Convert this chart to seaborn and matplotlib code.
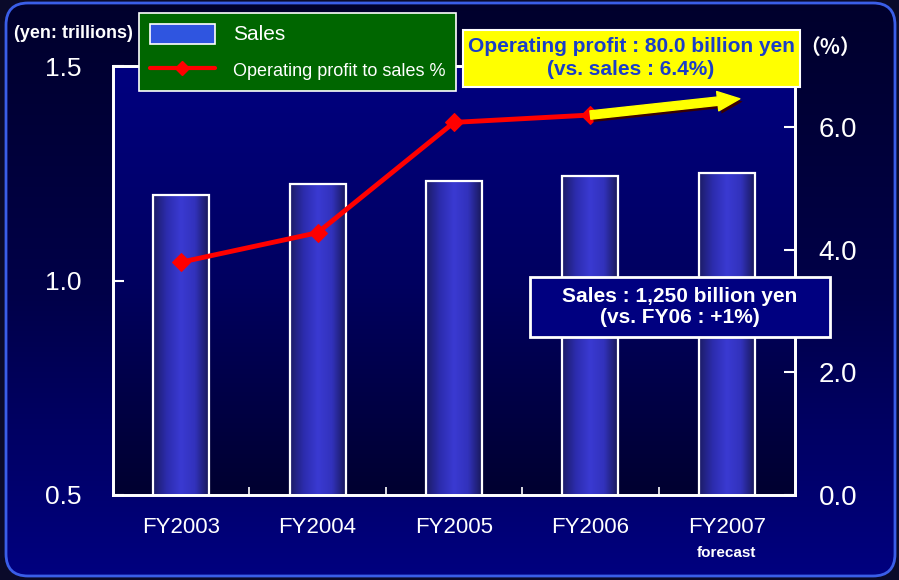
import numpy as np
import matplotlib
matplotlib.use("Agg")
import matplotlib.pyplot as plt
import matplotlib.patheffects as pe
import matplotlib.transforms as mtransforms
from matplotlib.colors import LinearSegmentedColormap
from matplotlib.patches import Patch, FancyBboxPatch, Rectangle
from matplotlib.lines import Line2D
from matplotlib.ticker import FixedLocator
import seaborn as sns

# data
years = ["FY2003", "FY2004", "FY2005", "FY2006", "FY2007"]
sales = [1.20, 1.225, 1.232, 1.244, 1.25]          # yen, trillions
margin = [3.80, 4.28, 6.08, 6.20, 6.40]            # operating profit to sales %
sales_ticks = [0.5, 1.0, 1.5]
pct_ticks = [0.0, 2.0, 4.0, 6.0]

sns.set_theme(style="white")
plt.rcParams["font.family"] = ["Liberation Sans", "DejaVu Sans"]

W, H = 899, 580
fig = plt.figure(figsize=(W / 100, H / 100), dpi=100, facecolor="#0a0a2a")


def px_box(x0, y0, x1, y1, **kw):
    # rectangle given in pixel coords of the figure (origin top-left)
    r = Rectangle((x0 / W, 1 - y1 / H), (x1 - x0) / W, (y1 - y0) / H,
                  transform=fig.transFigure, **kw)
    fig.add_artist(r)
    return r


# figure background: rounded panel with vertical gradient
bg = fig.add_axes([0, 0, 1, 1], zorder=-10)
bg.set_xlim(0, W)
bg.set_ylim(H, 0)
bg.axis("off")
panel = FancyBboxPatch((6, 3), W - 10, H - 7, boxstyle="round,pad=0,rounding_size=22",
                       facecolor="none", edgecolor="#3a5ee8", linewidth=2, zorder=2)
bg.add_patch(panel)
fig_cmap = LinearSegmentedColormap.from_list("figbg", ["#00002c", "#000048", "#000080"])
im = bg.imshow(np.linspace(0, 1, 256).reshape(-1, 1), cmap=fig_cmap, aspect="auto",
               extent=(0, W, H, 0), zorder=1)
im.set_clip_path(panel)

ax = fig.add_axes([113 / W, 1 - 495 / H, (795 - 113) / W, (495 - 66) / H])
ax.set_facecolor("none")

sns.barplot(x=years, y=sales, ax=ax, width=0.41, color="#3535c0",
            edgecolor="white", linewidth=1.6)

ax.set_xlim(-0.5, 4.5)
ax.set_ylim(0.5, 1.5)

# axes background gradient
ax_cmap = LinearSegmentedColormap.from_list("axbg", ["#000030", "#000060", "#000080"])
ax.imshow(np.linspace(0, 1, 256).reshape(-1, 1), cmap=ax_cmap, aspect="auto",
          origin="lower", extent=(-0.5, 4.5, 0.5, 1.5), zorder=0)

# bar gradients (rectangular bars, so the extent alone shapes them)
bar_cmap = LinearSegmentedColormap.from_list(
    "bar", ["#1c1c66", "#2c2cae", "#3a3ad2", "#3232bc", "#18185a"])
for bar in ax.patches:
    x0, y0 = bar.get_x(), bar.get_y()
    w, h = bar.get_width(), bar.get_height()
    ax.imshow(np.linspace(0, 1, 256).reshape(1, -1), cmap=bar_cmap, aspect="auto",
              extent=(x0, x0 + w, y0, y0 + h), zorder=1, interpolation="bicubic")
    bar.set_facecolor("none")
    bar.set_zorder(2)

ax.set_xlim(-0.5, 4.5)
ax.set_ylim(0.5, 1.5)
ax.set_yticks(sales_ticks)
ax.set_yticklabels([f"{t:.1f}" for t in sales_ticks])
ax.set_xlabel("")
ax.set_ylabel("")
ax.tick_params(axis="y", direction="in", length=8, width=1.5, color="white",
               labelcolor="white", labelsize=19, pad=23)
ax.tick_params(axis="x", which="major", length=0, labelcolor="white", labelsize=16, pad=16)
ax.xaxis.set_minor_locator(FixedLocator([0.5, 1.5, 2.5, 3.5]))
ax.tick_params(axis="x", which="minor", direction="in", length=6, width=1.2,
               color="white", bottom=True)
for s in ax.spines.values():
    s.set_visible(True)
    s.set_color("white")
    s.set_linewidth(2)

# operating margin on the right axis
ax2 = ax.twinx()
ax2.xaxis.update_units(np.array(years))
sns.lineplot(x=years[:4], y=margin[:4], ax=ax2, color="red", marker="D",
             markersize=9, markeredgecolor="red", linewidth=3.5, legend=False, sort=False)
ax2.set_ylim(0, 7)
ax2.set_yticks(pct_ticks)
ax2.set_yticklabels([f"{t:.1f}" for t in pct_ticks])
ax2.set_ylabel("")
ax2.tick_params(axis="y", direction="in", length=8, width=1.5, color="white",
                labelcolor="white", labelsize=20, pad=17)
for s in ax2.spines.values():
    s.set_color("white")
    s.set_linewidth(2)
ax.set_xlim(-0.5, 4.5)

# forecast arrow FY2006 -> FY2007 (tip nudged a little past the FY2007 slot)
tip_tr = mtransforms.offset_copy(ax2.transData, fig=fig, x=13, y=4, units="dots")
arrow = ax2.annotate("", xy=(ax2.xaxis.convert_units(years[4]), margin[4]), xycoords=tip_tr,
                     xytext=(years[3], margin[3]), textcoords="data",
                     arrowprops=dict(arrowstyle="simple,head_length=1.6,head_width=1.4,tail_width=0.6",
                                     mutation_scale=10, facecolor="yellow", edgecolor="yellow",
                                     shrinkA=0, shrinkB=0),
                     zorder=5)
arrow.arrow_patch.set_path_effects([pe.SimplePatchShadow(offset=(2, -2), shadow_rgbFace="#3a0000", alpha=1),
                                    pe.Normal()])

ax.text(4, -0.135, "forecast", transform=ax.get_xaxis_transform(), ha="center", va="center",
        color="white", fontsize=11, fontweight="bold")

fig.text(73 / W, 1 - 34 / H, "(yen: trillions)", color="white", fontsize=13,
         fontweight="bold", ha="center", va="center")
fig.text(830 / W, 1 - 47 / H, "（%）", color="white", fontsize=15, fontweight="bold",
         ha="center", va="center", family=["Noto Sans CJK JP", "DejaVu Sans"])

# callout boxes
px_box(463, 30, 800, 87, facecolor="yellow", edgecolor="white", linewidth=1.5, zorder=19)
fig.text(631 / W, 1 - 58 / H, "Operating profit : 80.0 billion yen\n(vs. sales : 6.4%)",
         color="#1a3ec8", fontsize=15, fontweight="bold", ha="center", va="center",
         linespacing=1.3, zorder=20)

px_box(530, 277, 830, 337, facecolor="#000080", edgecolor="white", linewidth=2, zorder=19)
fig.text(680 / W, 1 - 307 / H, "Sales : 1,250 billion yen\n(vs. FY06 : +1%)",
         color="white", fontsize=15, fontweight="bold", ha="center", va="center",
         linespacing=1.15, zorder=20)

handles = [Patch(facecolor="#2f55e0", edgecolor="white", linewidth=1.2),
           Line2D([], [], color="red", marker="D", markersize=7, linewidth=3)]
leg = fig.legend(handles, ["Sales", "Operating profit to sales %"],
                 loc="upper left", bbox_to_anchor=(139 / W, 1 - 13 / H), fontsize=13,
                 frameon=True, facecolor="#006600", edgecolor="white", framealpha=1,
                 fancybox=False, handlelength=3.6, handleheight=1.3, handletextpad=1.0,
                 borderpad=0.6, labelspacing=0.9, borderaxespad=0)
leg.get_frame().set_linewidth(1.2)
leg.set_zorder(20)
for t in leg.get_texts():
    t.set_color("white")
leg.get_texts()[0].set_fontsize(15)

fig.savefig("out.png", dpi=100, facecolor=fig.get_facecolor())
